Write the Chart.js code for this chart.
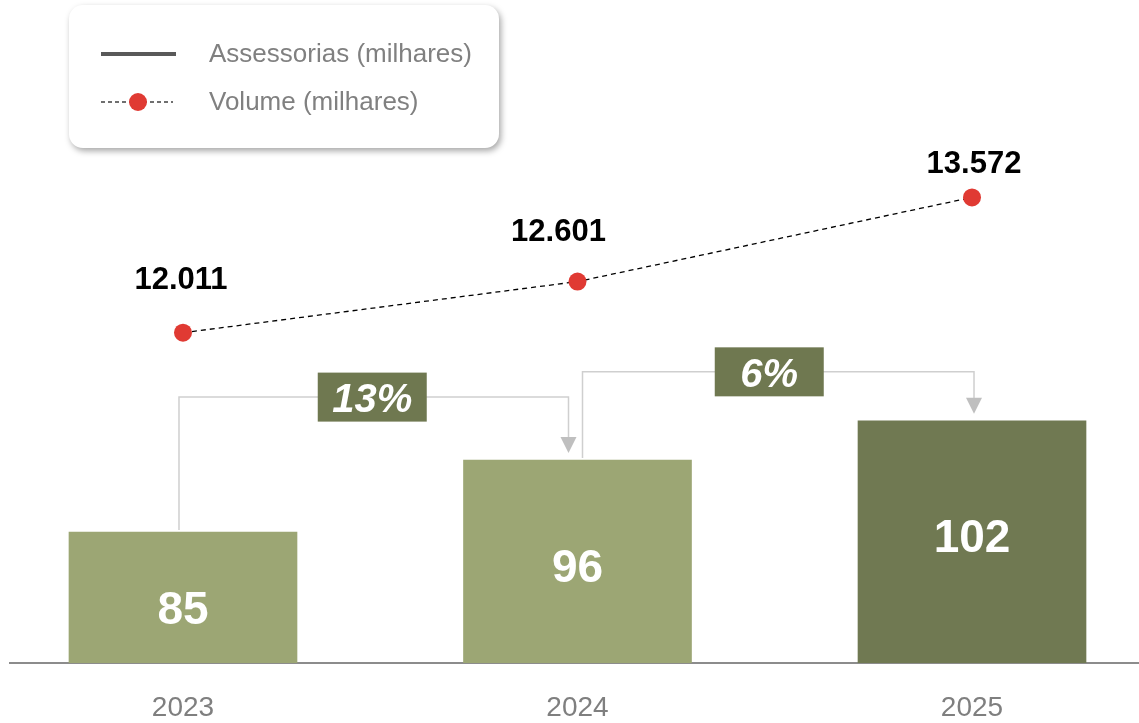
<!DOCTYPE html>
<html>
<head>
<meta charset="utf-8">
<script src="https://cdn.jsdelivr.net/npm/chart.js@4/dist/chart.umd.min.js"></script>
<style>
  html, body { margin: 0; padding: 0; background: #fff; }
  #wrap { width: 1139px; height: 723px; }
</style>
</head>
<body>
<div id="wrap"><canvas id="chart"></canvas></div>
<script>
// dados
const YEARS = ["2023", "2024", "2025"];
const ASSESSORIAS = [85, 96, 102];
const VOLUME = [12011, 12601, 13572];
const VOLUME_LABELS = ["12.011", "12.601", "13.572"];
const GROWTH = ["13%", "6%"];

// estilo
const FONT = "'Liberation Sans', Arial, sans-serif";
const BAR_COLORS = ["#9ca674", "#9ca674", "#707952"];
const BOX_COLOR = "#6f7850";
const DOT_COLOR = "#e03a33";
const BAR_LABEL_DY = [26, 20, 10];
const VOL_LABEL_DX = [-2, -19, 2];
const VOL_LABEL_DY = [-44, -41, -24];
const CONN_RISE = [63, 49];
const CONN_DX = [[-4, -9], [5, 2]];
const BOX_DX = [-1.5, -9];

/* =====================
   anotações + legenda
===================== */
const overlay = {
  id: "overlay",
  afterDatasetsDraw(chart){
    const ctx = chart.ctx;
    const bars = chart.getDatasetMeta(1).data;
    const pts = chart.getDatasetMeta(0).data;
    const base = chart.chartArea.bottom;

    ctx.save();

    // conectores de crescimento
    for (let k=0; k<GROWTH.length; k++){
      const a = bars[k], b = bars[k+1];
      const yH = Math.min(a.y, b.y) - CONN_RISE[k];
      const x0 = a.x + CONN_DX[k][0];
      const x1 = b.x + CONN_DX[k][1];
      ctx.strokeStyle = "#cfcfcf";
      ctx.lineWidth = 1.5;
      ctx.setLineDash([]);
      ctx.beginPath();
      ctx.moveTo(x0, a.y - 2);
      ctx.lineTo(x0, yH);
      ctx.lineTo(x1, yH);
      ctx.lineTo(x1, b.y - 22);
      ctx.stroke();
      ctx.fillStyle = "#bfbfbf";
      ctx.beginPath();
      ctx.moveTo(x1 - 8, b.y - 23);
      ctx.lineTo(x1 + 8, b.y - 23);
      ctx.lineTo(x1, b.y - 7);
      ctx.closePath();
      ctx.fill();

      const cx = (x0 + x1)/2 + BOX_DX[k];
      ctx.fillStyle = BOX_COLOR;
      ctx.fillRect(cx - 54.5, yH - 24.5, 109, 49);
      ctx.fillStyle = "#fff";
      ctx.font = `italic bold 40px ${FONT}`;
      ctx.textAlign = "center";
      ctx.textBaseline = "alphabetic";
      ctx.fillText(GROWTH[k], cx, yH + 15);
    }

    // valores das barras
    ctx.font = `bold 46px ${FONT}`;
    ctx.fillStyle = "#fff";
    ctx.textAlign = "center";
    ctx.textBaseline = "alphabetic";
    bars.forEach((b,i)=>{
      const mid = (b.y + base)/2;
      ctx.fillText(String(ASSESSORIAS[i]), b.x, mid + BAR_LABEL_DY[i]);
    });

    // valores do volume
    ctx.font = `bold 31px ${FONT}`;
    ctx.fillStyle = "#000";
    pts.forEach((p,i)=>{
      ctx.fillText(VOLUME_LABELS[i], p.x + VOL_LABEL_DX[i], p.y + VOL_LABEL_DY[i]);
    });

    // legenda
    ctx.save();
    ctx.shadowColor = "rgba(0,0,0,0.35)";
    ctx.shadowBlur = 6;
    ctx.shadowOffsetX = 2;
    ctx.shadowOffsetY = 3;
    ctx.fillStyle = "#fff";
    ctx.beginPath();
    ctx.roundRect(69, 5, 430, 143, 14);
    ctx.fill();
    ctx.restore();

    ctx.strokeStyle = "#595959";
    ctx.lineWidth = 4;
    ctx.beginPath();
    ctx.moveTo(101, 54);
    ctx.lineTo(176, 54);
    ctx.stroke();

    ctx.strokeStyle = "#404040";
    ctx.lineWidth = 1.3;
    ctx.setLineDash([4, 3]);
    ctx.beginPath();
    ctx.moveTo(101, 102);
    ctx.lineTo(173, 102);
    ctx.stroke();
    ctx.setLineDash([]);
    ctx.fillStyle = DOT_COLOR;
    ctx.beginPath();
    ctx.arc(138, 102, 9, 0, Math.PI*2);
    ctx.fill();

    ctx.font = `26px ${FONT}`;
    ctx.fillStyle = "#808080";
    ctx.textAlign = "left";
    ctx.fillText(chart.data.datasets[1].label, 209, 62);
    ctx.fillText(chart.data.datasets[0].label, 209, 110);

    ctx.restore();
  }
};

new Chart(document.getElementById("chart"), {
  data: {
    datasets: [
      {
        type: "line",
        label: "Volume (milhares)",
        data: VOLUME.map((v,i)=>({x:i, y:v})),
        yAxisID: "y2",
        borderColor: "#000",
        borderWidth: 1.3,
        borderDash: [5, 4],
        pointRadius: 9,
        pointBackgroundColor: DOT_COLOR,
        pointBorderWidth: 0,
        clip: false,
        order: 0
      },
      {
        type: "bar",
        label: "Assessorias (milhares)",
        data: ASSESSORIAS.map((v,i)=>({x:i, y:v})),
        yAxisID: "y",
        backgroundColor: BAR_COLORS,
        barThickness: 228,
        order: 1
      }
    ]
  },
  options: {
    responsive: true,
    maintainAspectRatio: false,
    animation: false,
    layout: { autoPadding: false, padding: { left: 10, right: 0, top: 0, bottom: 0 } },
    plugins: { legend: { display: false }, tooltip: { enabled: false } },
    scales: {
      x: {
        type: "linear",
        offset: false,
        min: -0.4385,
        max: 2.4233,
        afterBuildTicks: s => { s.ticks = YEARS.map((_,i)=>({value:i})); },
        afterFit: s => { s.height = 60; s.paddingLeft = 0; s.paddingRight = 0; },
        grid: { display: false, drawTicks: false, offset: false },
        border: { display: true, color: "#8c8c8c", width: 2 },
        ticks: {
          callback: v => YEARS[v],
          color: "#7f7f7f",
          font: { family: FONT, size: 28 },
          padding: 28,
          maxRotation: 0
        }
      },
      y: { display: false, min: 65, max: 166.3 },
      y2: { display: false, min: 8200, max: 15850 }
    }
  },
  plugins: [overlay]
});
</script>
</body>
</html>
